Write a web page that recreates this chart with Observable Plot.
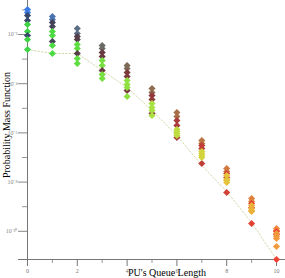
<!DOCTYPE html>
<html>
<head>
<meta charset="utf-8">
<script src="https://cdn.jsdelivr.net/npm/d3@7"></script>
<script src="https://cdn.jsdelivr.net/npm/@observablehq/plot@0.6"></script>
<style>
  html, body { margin: 0; padding: 0; background: white; }
</style>
</head>
<body>
<div id="chart"></div>
<script>
// Queue lengths (x axis)
const queueLengths = [0, 1, 2, 3, 4, 5, 6, 7, 8, 9, 10];

// Probability mass function values, one array per series
const seriesA = [0.104, 0.054, 0.0175, 3.57e-3, 5.49e-4, 6.38e-5, 6.75e-6, 4.91e-7, 3.57e-8, 2.15e-9, 1.30e-10];
const seriesB = [0.0783, 0.0407, 0.0110, 2.70e-3, 4.15e-4, 4.39e-5, 4.64e-6, 3.71e-7, 2.70e-8, 1.63e-9, 1.08e-10];
const seriesC = [0.0592, 0.0308, 0.0083, 1.85e-3, 2.85e-4, 3.31e-5, 3.19e-6, 3.08e-7, 2.24e-8, 1.35e-9, 9.82e-11];
const seriesD = [0.0371, 0.0211, 6.27e-3, 1.28e-3, 1.96e-4, 2.28e-5, 2.00e-6, 2.32e-7, 1.54e-8, 9.27e-10, 7.41e-11];
const seriesE = [0.0255, 0.0132, 3.92e-3, 8.77e-4, 1.35e-4, 1.57e-5, 1.37e-6, 1.75e-7, 1.85e-8, 1.12e-9, 8.14e-11];
const seriesF = [0.0132, 0.0091, 2.70e-3, 5.49e-4, 9.27e-5, 1.08e-5, 1.14e-6, 1.46e-7, 1.28e-8, 8.45e-10, 6.15e-11];
const seriesG = [0.0091, 5.19e-3, 1.69e-3, 3.44e-4, 5.29e-5, 6.15e-6, 6.50e-7, 5.70e-8, 3.78e-9, 2.08e-10, 7.14e-12];
const seriesH = [6.27e-3, 3.57e-3, 1.06e-3, 2.36e-4, 7.01e-5, 8.15e-6, 9.46e-7, 1.21e-7, 1.16e-8, 7.01e-10, 5.10e-11];
const seriesI = [2.45e-3, 1.69e-3, 6.62e-4, 1.63e-4, 3.02e-5, 5.09e-6, 7.84e-7, 1.00e-7, 9.63e-9, 6.38e-10, 2.41e-11];

// Theoretical curve (dotted line)
const theory = [2.45e-3, 1.69e-3, 1.69e-3, 3.44e-4, 7.01e-5, 8.15e-6, 7.84e-7, 4.73e-8, 4.15e-9, 2.28e-10, 7.14e-12];

// Tick values
const xMajorTicks = [0, 2, 4, 6, 8, 10];
const xMinorTicks = [1, 3, 5, 7, 9];
const yMajorTicks = [1e-2, 1e-4, 1e-6, 1e-8, 1e-10];
const yMinorTicks = [1e-1, 1e-3, 1e-5, 1e-7, 1e-9];

const xLabel = "PU's Queue Length";
const yLabel = "Probability Mass Function";

// colour families (style logic)
const families = {
  top: d3.interpolateRgbBasis(["#3b7be8", "#5b6a7a", "#7a6a50", "#a86c48", "#d07a40", "#f08a3c"]),
  dark: d3.interpolateRgbBasis(["#36486a", "#553c44", "#7c3a3a", "#a83c3c", "#d84034", "#ec4434"]),
  green: d3.interpolateRgbBasis(["#3ed444", "#5ce040", "#8ee040", "#c0e040", "#e8c838", "#f09a3c"])
};
const seriesList = [
  {name: "A", values: seriesA, fam: "top"},
  {name: "B", values: seriesB, fam: "top"},
  {name: "C", values: seriesC, fam: "dark"},
  {name: "D", values: seriesD, fam: "dark"},
  {name: "E", values: seriesE, fam: "green"},
  {name: "F", values: seriesF, fam: "green"},
  {name: "G", values: seriesG, fam: "dark"},
  {name: "H", values: seriesH, fam: "green"},
  {name: "I", values: seriesI, fam: "green"}
];
const points = [];
for (const s of seriesList) {
  s.values.forEach((v, i) => points.push({x: queueLengths[i], y: v, s: s.name, fam: s.fam}));
}
const theoryRows = theory.map((v, i) => ({x: queueLengths[i], y: v}));

const supers = {"-": "⁻", "0": "⁰", "1": "¹", "2": "²", "3": "³", "4": "⁴", "5": "⁵", "6": "⁶", "7": "⁷", "8": "⁸", "9": "⁹"};
const fmtPow = d => "10" + String(Math.round(Math.log10(d))).split("").map(c => supers[c]).join("");

const yBottom = Math.pow(10, -11.146);
const yTop = Math.pow(10, -0.618);

const chart = Plot.plot({
  width: 285,
  height: 278,
  marginLeft: 27,
  marginRight: 9,
  marginTop: 0,
  marginBottom: 19,
  style: {fontFamily: "Liberation Serif", background: "white", overflow: "visible"},
  x: {domain: [0, 10]},
  y: {type: "log", domain: [yBottom, yTop]},
  color: {type: "identity"},
  marks: [
    Plot.axisX({ticks: xMajorTicks, tickSize: 7, tickPadding: 2, fontSize: 6, color: "#777", label: null, tickFormat: d => String(d)}),
    Plot.axisX({ticks: xMinorTicks, tickSize: 4, tickFormat: () => "", color: "#999", label: null}),
    Plot.axisY({ticks: yMajorTicks, tickSize: 9, tickPadding: 1, fontSize: 6, color: "#888", label: null, tickFormat: fmtPow}),
    Plot.axisY({ticks: yMinorTicks, tickSize: 5, tickFormat: () => "", color: "#999", label: null}),
    Plot.ruleX([0], {stroke: "#777"}),
    Plot.ruleY([yBottom], {x1: -0.36, x2: 10.36, stroke: "#777"}),
    Plot.line(theoryRows, {x: "x", y: "y", stroke: "#d4d8a8", strokeWidth: 1, strokeDasharray: "1.5,2"}),
    Plot.dot(points, {x: "x", y: "y", symbol: "diamond2", r: 3.2, fill: d => families[d.fam](d.x / 10), stroke: null}),
    Plot.text([xLabel], {frameAnchor: "bottom", textAnchor: "middle", dx: 15, dy: 16, fontSize: 10, fill: "black"}),
    Plot.text([yLabel], {frameAnchor: "left", textAnchor: "middle", lineAnchor: "middle", rotate: -90, dx: -21, dy: -5, fontSize: 10, fill: "black"})
  ]
});
document.getElementById("chart").appendChild(chart);
</script>
</body>
</html>
